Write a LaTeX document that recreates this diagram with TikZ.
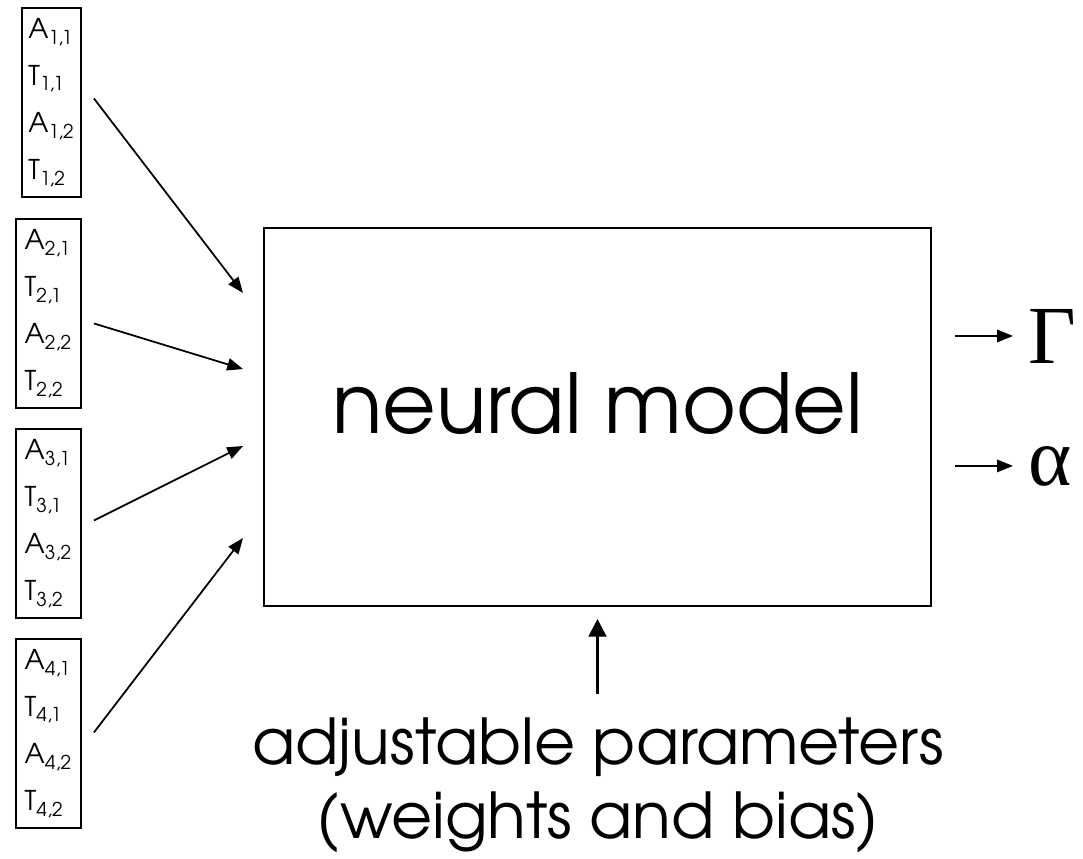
\documentclass[tikz,border=0pt]{standalone}
\usepackage{fontspec}
\setmainfont{TeX Gyre Adventor}
\newfontfamily\greekfont{Liberation Serif}
\usetikzlibrary{arrows.meta, positioning}

\begin{document}
\begin{tikzpicture}[
    x=0.02cm, y=-0.02cm,
    inbox/.style={draw, line width=1.1pt, anchor=north west, inner sep=0pt,
                  minimum width=1.3cm, minimum height=3.78cm, align=left,
                  font=\fontsize{15.5}{26.7}\selectfont},
    outsym/.style={anchor=base west, inner xsep=0.3cm, inner ysep=0pt,
                   font=\greekfont\fontsize{47}{50}\selectfont},
    >={Triangle[length=9pt, width=7pt]}, line width=1pt
  ]

  \useasboundingbox (0,0) rectangle (1083,859);

  % Input vectors
  \node[inbox, minimum width=1.18cm] (in1) at (21,7)
    {A\textsubscript{1,1}\\T\textsubscript{1,1}\\A\textsubscript{1,2}\\T\textsubscript{1,2}};
  \node[inbox] (in2) at (15,218)
    {A\textsubscript{2,1}\\T\textsubscript{2,1}\\A\textsubscript{2,2}\\T\textsubscript{2,2}};
  \node[inbox] (in3) at (15,428)
    {A\textsubscript{3,1}\\T\textsubscript{3,1}\\A\textsubscript{3,2}\\T\textsubscript{3,2}};
  \node[inbox] (in4) at (15,638)
    {A\textsubscript{4,1}\\T\textsubscript{4,1}\\A\textsubscript{4,2}\\T\textsubscript{4,2}};

  % Model
  \node[draw, line width=1.2pt, anchor=north west, minimum width=13.34cm,
        minimum height=7.56cm, text depth=0.56cm,
        font=\fontsize{47}{50}\selectfont] (model) at (263,227)
    {neural model};

  % Outputs
  \node[outsym] (gam) at (1013,363) {Γ};
  \node[outsym] (alp) at (1013,485) {α};
  \coordinate (out) at ([xshift=0.46cm]model.east);

  % Parameters
  \node[anchor=north, inner sep=0pt, align=center,
        font=\fontsize{36}{42}\selectfont] (params) at (598,717)
    {adjustable parameters\\(weights and bias)};

  % Arrows
  \draw[->] ([shift={(12,-4)}]in1.east) -- ([shift={(-20,-124)}]model.west);
  \draw[->] ([shift={(12,10)}]in2.east) -- ([shift={(-20,-48)}]model.west);
  \draw[->] ([shift={(12,-3)}]in3.east) -- ([shift={(-20,29)}]model.west);
  \draw[->] ([shift={(12,-1)}]in4.east) -- ([shift={(-20,121)}]model.west);
  \draw[->] (out |- gam.west) -- (gam.west);
  \draw[->] (out |- alp.west) -- (alp.west);
  \draw[-{Triangle[length=10pt, width=10pt]}, line width=1.8pt,
        shorten <=0.46cm, shorten >=0.24cm]
    (params.north -| model.south) -- (model.south);

\end{tikzpicture}
\end{document}
